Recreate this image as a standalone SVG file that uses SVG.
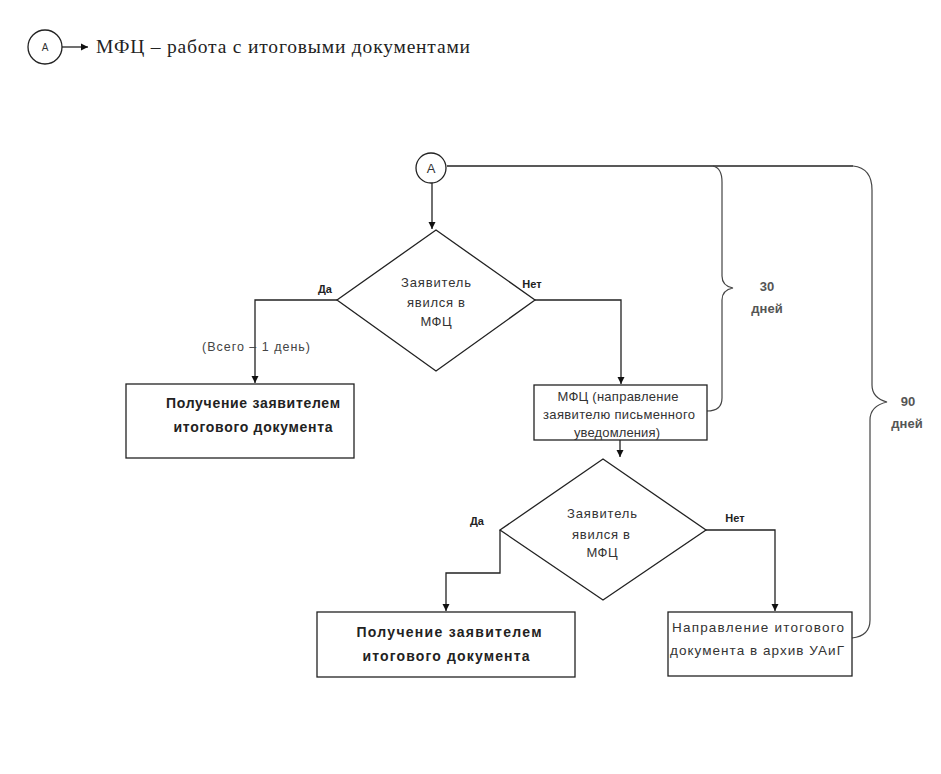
<svg xmlns="http://www.w3.org/2000/svg" width="941" height="774" viewBox="0 0 941 774">
<defs>
<marker id="ah" markerWidth="8" markerHeight="8" refX="7" refY="4" orient="auto" markerUnits="userSpaceOnUse">
<path d="M0,0.5 L7,4 L0,7.5 Z" fill="#111"/>
</marker>
<style>
.ln{fill:none;stroke:#222;stroke-width:1.3}
.br{fill:none;stroke:#444;stroke-width:1.2}
.shp{fill:#fff;stroke:#222;stroke-width:1.3}
.t{font-family:"Liberation Sans",Arial,sans-serif;font-size:13px;fill:#333;text-anchor:middle}
.b{font-family:"Liberation Sans",Arial,sans-serif;font-size:14px;font-weight:bold;fill:#222;text-anchor:middle}
.lb{font-family:"Liberation Sans",Arial,sans-serif;font-size:11px;font-weight:bold;fill:#222;text-anchor:middle}
.sf{font-family:"Liberation Serif","Times New Roman",serif;font-size:19.5px;fill:#222}
</style>
</defs>
<rect width="941" height="774" fill="#fff"/>

<g id="legend">
<circle class="shp" cx="45" cy="47" r="17"/>
<text class="t" x="45" y="51" style="font-size:10px">A</text>
<line class="ln" x1="62" y1="47" x2="88" y2="47" marker-end="url(#ah)"/>
<text class="sf" x="96" y="53" textLength="374" lengthAdjust="spacing">МФЦ – работа с итоговыми документами</text>
</g>

<g id="connectors">
<line class="ln" x1="432" y1="182" x2="432" y2="229" marker-end="url(#ah)"/>
<polyline class="ln" points="337,300 255,300 255,383" marker-end="url(#ah)"/>
<polyline class="ln" points="535,300 621,300 621,384" marker-end="url(#ah)"/>
<line class="ln" x1="620" y1="440" x2="620" y2="457" marker-end="url(#ah)"/>
<polyline class="ln" points="500,530 500,573 446,573 446,611" marker-end="url(#ah)"/>
<polyline class="ln" points="706,530 775,530 775,611" marker-end="url(#ah)"/>
<line class="ln" x1="447" y1="166" x2="853" y2="166"/>
<path class="br" d="M713,166 Q722,168 722,182 L722,276 Q722,286 733,288 Q722,290 722,300 L722,398 Q722,411 707,411"/>
<path class="br" d="M853,166 Q872,168 872,190 L872,385 Q872,398 887,402 Q870,406 870,420 L870,620 Q870,636 852,638"/>
<text class="lb" x="256" y="351" style="font-weight:normal;fill:#444;font-size:12.5px" textLength="108" lengthAdjust="spacing">(Всего – 1 день)</text>
<text class="lb" x="325" y="293">Да</text>
<text class="lb" x="532" y="288">Нет</text>
<text class="lb" x="477" y="525">Да</text>
<text class="lb" x="735" y="522">Нет</text>
<text class="t" x="767" y="291" style="font-weight:bold;fill:#555">30</text>
<text class="t" x="767" y="313" style="font-weight:bold;fill:#555">дней</text>
<text class="t" x="908" y="406" style="font-weight:bold;fill:#555">90</text>
<text class="t" x="907" y="428" style="font-weight:bold;fill:#555">дней</text>
</g>

<g id="startA">
<circle class="shp" cx="431" cy="168" r="15"/>
<text class="t" x="431" y="173" style="font-size:13px">A</text>
</g>

<g id="decision1">
<polygon class="shp" points="436,230 535,300 436,371 337,300"/>
<text class="t" x="436" y="287" textLength="70" lengthAdjust="spacing">Заявитель</text>
<text class="t" x="436" y="307" textLength="58" lengthAdjust="spacing">явился в</text>
<text class="t" x="436" y="326" textLength="31" lengthAdjust="spacing">МФЦ</text>
</g>

<g id="receive1">
<rect class="shp" x="126" y="384" width="228" height="74"/>
<text class="b" x="253" y="408" textLength="174" lengthAdjust="spacing">Получение заявителем</text>
<text class="b" x="253" y="432" textLength="159" lengthAdjust="spacing">итогового документа</text>
</g>

<g id="notify">
<rect class="shp" x="534" y="385" width="173" height="55"/>
<text class="t" x="618" y="401" textLength="121" lengthAdjust="spacing">МФЦ (направление</text>
<text class="t" x="619" y="419" textLength="152" lengthAdjust="spacing">заявителю письменного</text>
<text class="t" x="617" y="437" textLength="86" lengthAdjust="spacing">уведомления)</text>
</g>

<g id="decision2">
<polygon class="shp" points="603,459 706,530 603,600 500,530"/>
<text class="t" x="602" y="518" textLength="70" lengthAdjust="spacing">Заявитель</text>
<text class="t" x="601" y="539" textLength="58" lengthAdjust="spacing">явился в</text>
<text class="t" x="602" y="557" textLength="31" lengthAdjust="spacing">МФЦ</text>
</g>

<g id="receive2">
<rect class="shp" x="317" y="612" width="258" height="65"/>
<text class="b" x="449" y="637" textLength="185" lengthAdjust="spacing">Получение заявителем</text>
<text class="b" x="446" y="661" textLength="167" lengthAdjust="spacing">итогового документа</text>
</g>

<g id="archive">
<rect class="shp" x="668" y="612" width="184" height="64"/>
<text class="t" x="758" y="632" style="font-size:13.5px" textLength="172" lengthAdjust="spacing">Направление итогового</text>
<text class="t" x="757" y="655" style="font-size:13.5px" textLength="174" lengthAdjust="spacing">документа в архив УАиГ</text>
</g>
</svg>
